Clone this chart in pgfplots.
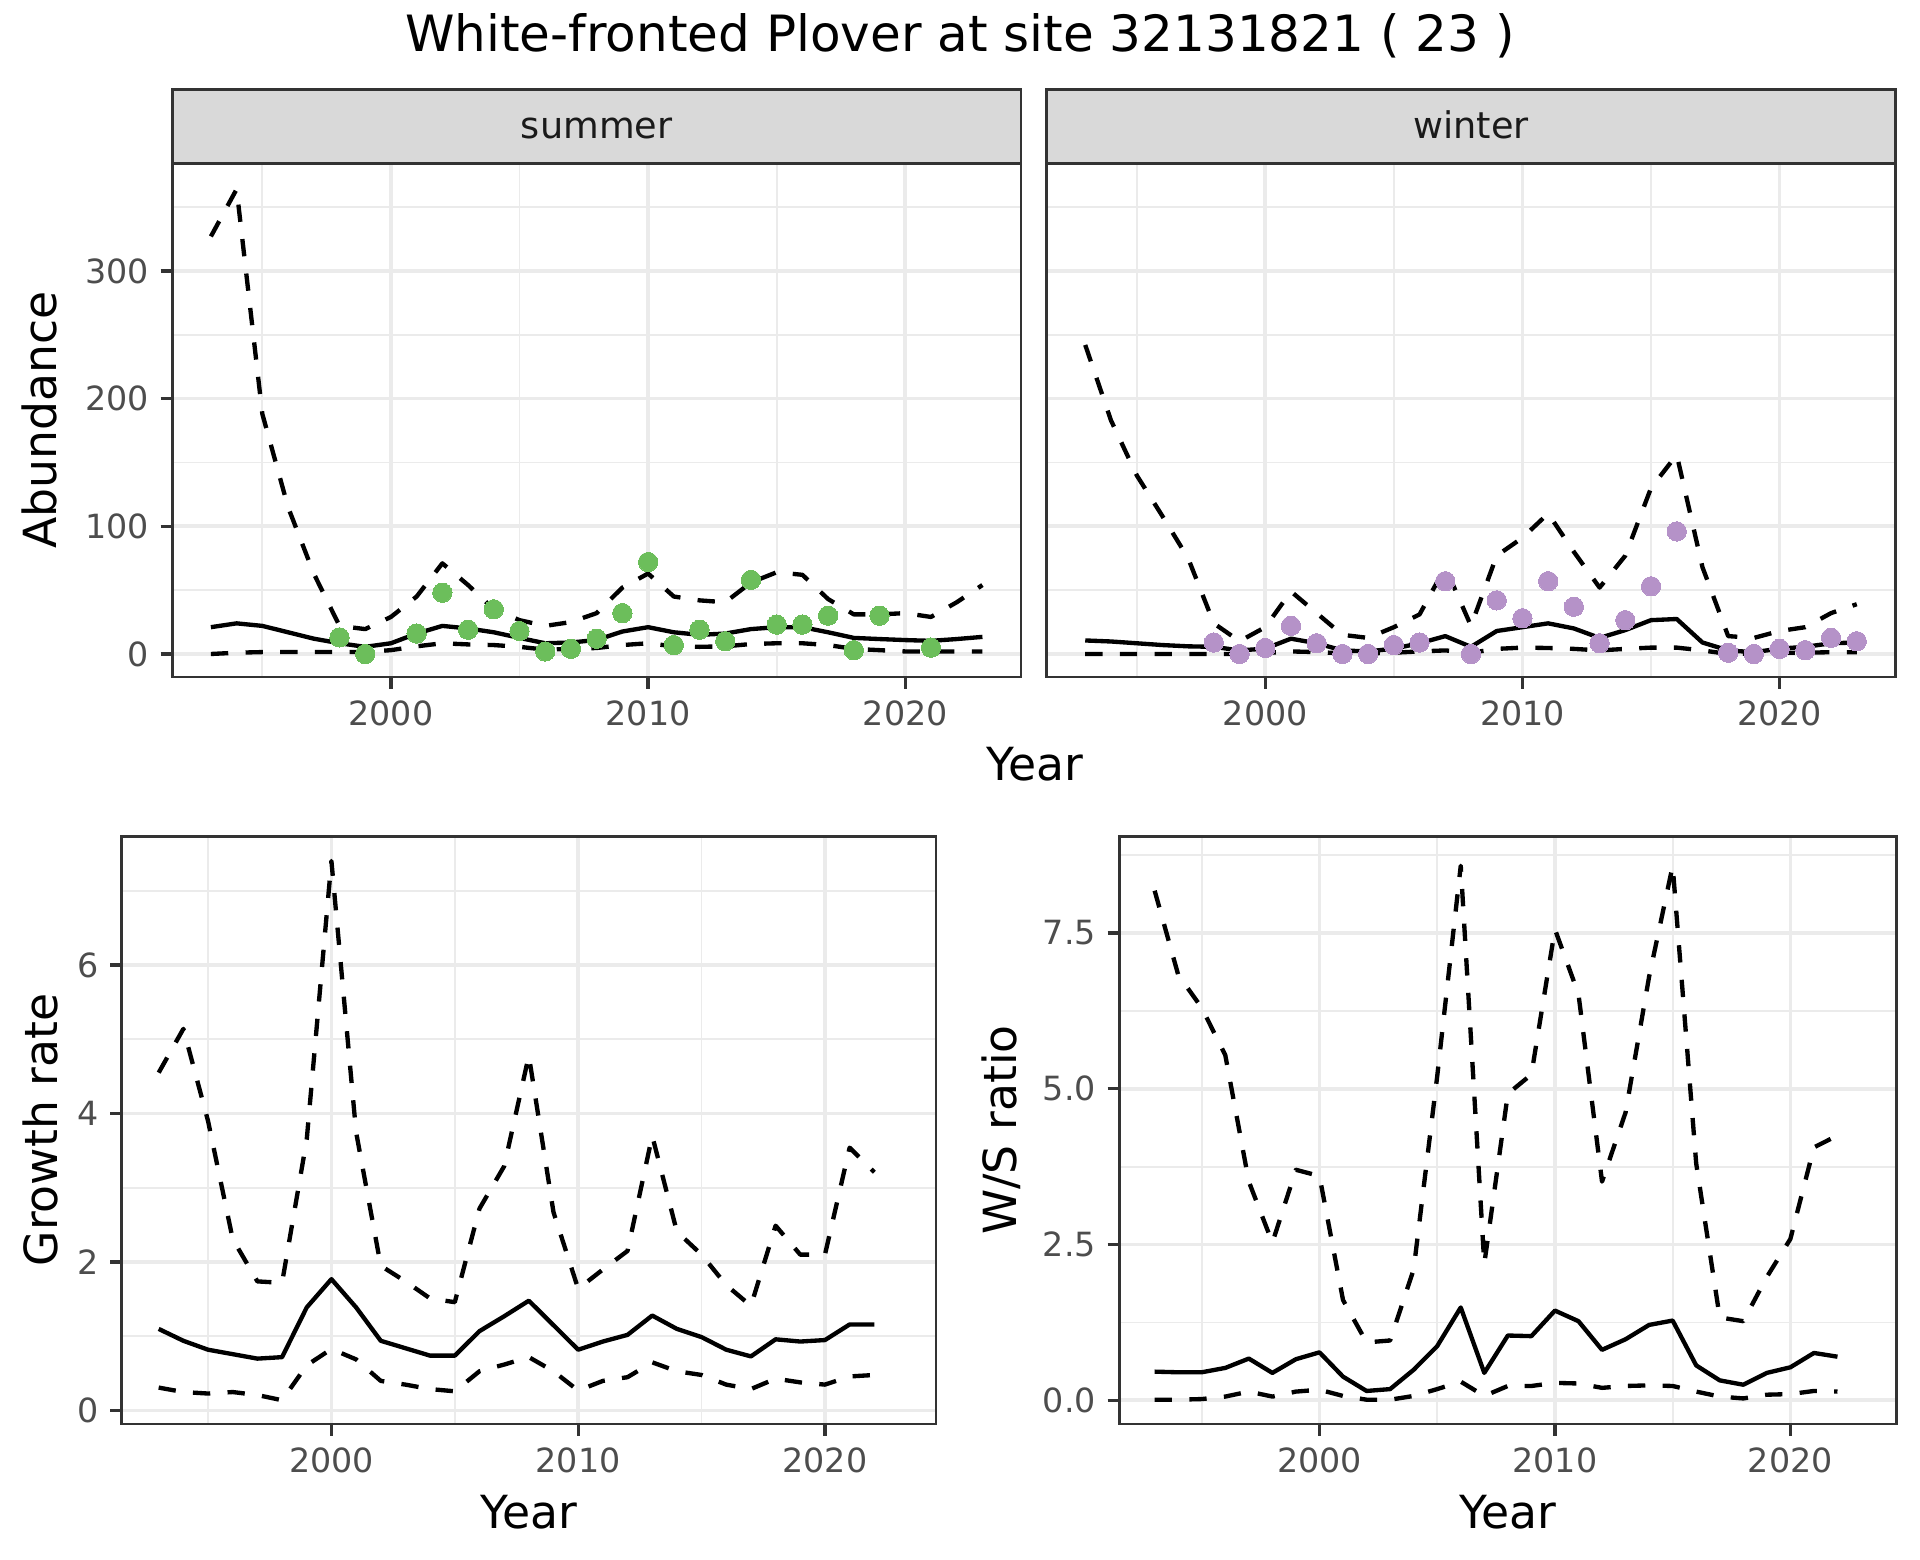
\documentclass[border=0pt]{standalone}
\usepackage{fontspec}
\setmainfont{DejaVu Sans}
\usepackage{pgfplots}
\pgfplotsset{compat=1.18}
\usepackage{pgfplotstable}

\definecolor{gridgray}{HTML}{EBEBEB}
\definecolor{bordergray}{HTML}{333333}
\definecolor{tickgray}{HTML}{4D4D4D}
\definecolor{stripfill}{HTML}{D9D9D9}
\definecolor{striptext}{HTML}{1A1A1A}
\definecolor{ptgreen}{HTML}{6CBE5B}
\definecolor{ptpurple}{HTML}{B592C8}

% abundance, summer: lower, mean, upper
\pgfplotstableread{
year lo mid hi
1993 0   21   327
1994 1   24   364
1995 1.5 22   188
1996 1.5 17   115
1997 1.5 12   63
1998 1.5 8.4  22
1999 1.5 5.6  19.5
2000 3   8.4  29
2001 6   16   45
2002 8.4 22   71
2003 7.5 20   54
2004 7   17   35
2005 5.6 12.6 26.5
2006 3.4 8.4  22
2007 4   9    25
2008 4.7 11   32
2009 7   17.6 52
2010 8.4 21   63
2011 6   17   45
2012 5.6 15   42
2013 6   16   40.5
2014 7.8 19.5 56
2015 8.4 21   64
2016 8.4 21   62
2017 7   17   43
2018 4   12.6 31
2019 3   11.7 31
2020 2   10.9 32
2021 2   10.3 29
2022 2   11.7 40.5
2023 2   13.4 54
}\summer

\pgfplotstableread{
year n
1998 13
1999 0
2001 16
2002 48
2003 19
2004 35
2005 18
2006 2
2007 4
2008 12
2009 32
2010 72
2011 7
2012 19
2013 10
2014 58
2015 23
2016 23
2017 30
2018 3
2019 30
2021 5
}\summercounts

% abundance, winter
\pgfplotstableread{
year lo mid hi
1993 0   10.6 242
1994 0   9.8  183
1995 0   8.4  140
1996 0   7    108
1997 0   6    75
1998 0   5.6  24
1999 0   2.8  10
2000 0.8 4.2  21
2001 2   12   49
2002 1.5 8.4  32
2003 0.5 2.8  15
2004 0.5 2    12.6
2005 1   4.2  21
2006 2   8.4  31
2007 2.8 14   68
2008 1   5.6  22
2009 4   18   77
2010 5   21   91
2011 4.7 24   110
2012 4   20   80
2013 2.8 12.6 52
2014 4   18.7 77
2015 5   26.5 130
2016 5   27.4 156
2017 2.8 9    68
2018 0   2.8  14
2019 0.5 1.4  12.6
2020 1   4.2  18
2021 1   5.6  21
2022 1.4 8.4  32
2023 1.4 9    39
}\winter

\pgfplotstableread{
year n
1998 9
1999 0
2000 4.7
2001 22
2002 8.4
2003 0
2004 0
2005 7
2006 9
2007 57
2008 0
2009 42
2010 28
2011 57
2012 37
2013 8.4
2014 26.5
2015 53
2016 96
2018 1
2019 0
2020 4
2021 3
2022 12.6
2023 10
}\wintercounts

% growth rate
\pgfplotstableread{
year lo mid hi
1993 0.31 1.10 4.55
1994 0.25 0.94 5.14
1995 0.23 0.82 3.90
1996 0.25 0.76 2.31
1997 0.21 0.70 1.74
1998 0.14 0.72 1.72
1999 0.61 1.39 3.65
2000 0.83 1.77 7.40
2001 0.69 1.39 3.75
2002 0.40 0.94 1.95
2003 0.35 0.84 1.74
2004 0.29 0.74 1.51
2005 0.26 0.74 1.46
2006 0.53 1.07 2.72
2007 0.62 1.27 3.29
2008 0.72 1.48 4.78
2009 0.53 1.15 2.67
2010 0.27 0.82 1.64
2011 0.40 0.93 1.90
2012 0.45 1.02 2.15
2013 0.65 1.28 3.70
2014 0.53 1.10 2.41
2015 0.48 0.99 2.10
2016 0.35 0.82 1.69
2017 0.29 0.73 1.41
2018 0.43 0.96 2.49
2019 0.38 0.93 2.10
2020 0.35 0.95 2.10
2021 0.46 1.16 3.54
2022 0.48 1.16 3.21
}\growth

% winter/summer ratio
\pgfplotstableread{
year lo mid hi
1993 0.01 0.46 8.18
1994 0.01 0.45 6.83
1995 0.02 0.45 6.30
1996 0.06 0.52 5.54
1997 0.14 0.67 3.51
1998 0.06 0.44 2.53
1999 0.14 0.66 3.70
2000 0.17 0.77 3.60
2001 0.07 0.38 1.61
2002 0.01 0.15 0.93
2003 0.01 0.18 0.96
2004 0.07 0.49 2.10
2005 0.18 0.87 5.20
2006 0.30 1.49 8.58
2007 0.07 0.44 2.19
2008 0.23 1.04 4.92
2009 0.23 1.03 5.23
2010 0.28 1.44 7.56
2011 0.27 1.27 6.52
2012 0.20 0.81 3.51
2013 0.23 0.98 4.62
2014 0.24 1.21 6.80
2015 0.23 1.28 8.58
2016 0.14 0.56 3.80
2017 0.06 0.32 1.33
2018 0.03 0.25 1.27
2019 0.09 0.44 1.98
2020 0.10 0.53 2.59
2021 0.15 0.76 4.06
2022 0.14 0.70 4.25
}\ratio

\pgfplotsset{
  panel/.style={
    scale only axis,
    anchor=south west,
    xmin=1991.5, xmax=2024.5,
    xtick={2000,2010,2020},
    xticklabels={2000,2010,2020},
    minor xtick={1995,2005,2015},
    grid=both,
    major grid style={draw=gridgray, line width=1.1pt},
    minor grid style={draw=gridgray, line width=0.55pt},
    minor tick style={draw=none},
    minor tick length=0pt,
    tick align=outside,
    major tick length=3.5pt,
    xtick pos=bottom, ytick pos=left,
    axis line style={draw=bordergray, line width=0.8pt},
    major tick style={draw=bordergray, line width=1pt},
    tick label style={font=\fontsize{10}{12}\selectfont, text=tickgray},
    /pgf/number format/assume math mode=true,
  },
  abund/.style={panel,
    width=254.6pt, height=154pt,
    ymin=-18, ymax=384,
    ytick={0,100,200,300},
    minor ytick={50,150,250,350},
  },
  lower/.style={black, line width=1.3pt, dash pattern=on 5.2pt off 5.2pt, line join=round},
  upper/.style={lower},
  mean/.style={black, line width=1.3pt, line join=round},
  counts/.style={only marks, mark=*, mark size=2.9pt, color=#1,
    mark options={draw=#1, fill=#1, line width=0pt}},
}

\begin{document}
\begin{tikzpicture}
\useasboundingbox (0,0) rectangle (576pt,468pt);

\begin{axis}[abund, at={(51.7pt,264.9pt)}, yticklabels={0,100,200,300}]
  \addplot[upper] table[x=year, y=hi] {\summer};
  \addplot[mean]  table[x=year, y=mid] {\summer};
  \addplot[lower] table[x=year, y=lo] {\summer};
  \addplot[counts=ptgreen] table[x=year, y=n] {\summercounts};
\end{axis}

\begin{axis}[abund, at={(314.0pt,264.9pt)}, yticklabels={}, ytick style={draw=none}]
  \addplot[upper] table[x=year, y=hi] {\winter};
  \addplot[mean]  table[x=year, y=mid] {\winter};
  \addplot[lower] table[x=year, y=lo] {\winter};
  \addplot[counts=ptpurple] table[x=year, y=n] {\wintercounts};
\end{axis}

\begin{axis}[panel, at={(36.5pt,40.8pt)}, width=244.3pt, height=176.25pt,
    ymin=-0.18, ymax=7.73,
    ytick={0,2,4,6}, yticklabels={0,2,4,6},
    minor ytick={1,3,5,7}]
  \addplot[upper] table[x=year, y=hi] {\growth};
  \addplot[mean]  table[x=year, y=mid] {\growth};
  \addplot[lower] table[x=year, y=lo] {\growth};
\end{axis}

\begin{axis}[panel, at={(335.8pt,40.8pt)}, width=233.1pt, height=176.25pt,
    ymin=-0.38, ymax=9.05,
    ytick={0,2.5,5,7.5}, yticklabels={0.0,2.5,5.0,7.5},
    minor ytick={1.25,3.75,6.25,8.75}]
  \addplot[upper] table[x=year, y=hi] {\ratio};
  \addplot[mean]  table[x=year, y=mid] {\ratio};
  \addplot[lower] table[x=year, y=lo] {\ratio};
\end{axis}

% facet strips
\draw[fill=stripfill, draw=bordergray, line width=0.8pt] (51.7pt,418.9pt) rectangle (306.3pt,441.2pt);
\draw[fill=stripfill, draw=bordergray, line width=0.8pt] (314.0pt,418.9pt) rectangle (568.7pt,441.2pt);
\node[anchor=base, text=striptext, font=\fontsize{11}{13}\selectfont] at (179pt,426.5pt) {summer};
\node[anchor=base, text=striptext, font=\fontsize{11}{13}\selectfont] at (441.35pt,426.5pt) {winter};

% titles
\node[anchor=base, font=\fontsize{15}{18}\selectfont] at (288pt,452.5pt)
  {White-fronted Plover at site 32131821 ( 23 )};
\node[anchor=base, rotate=90, font=\fontsize{13.7}{16}\selectfont] at (16.8pt,342pt) {Abundance};
\node[anchor=base, rotate=90, font=\fontsize{13.7}{16}\selectfont] at (17.2pt,129pt) {Growth rate};
\node[anchor=base, rotate=90, font=\fontsize{13.7}{16}\selectfont] at (304.8pt,129pt) {W/S ratio};
\node[anchor=base, font=\fontsize{13.7}{16}\selectfont] at (310.4pt,233.7pt) {Year};
\node[anchor=base, font=\fontsize{13.7}{16}\selectfont] at (158.7pt,9.4pt) {Year};
\node[anchor=base, font=\fontsize{13.7}{16}\selectfont] at (452.3pt,9.4pt) {Year};
\end{tikzpicture}
\end{document}
